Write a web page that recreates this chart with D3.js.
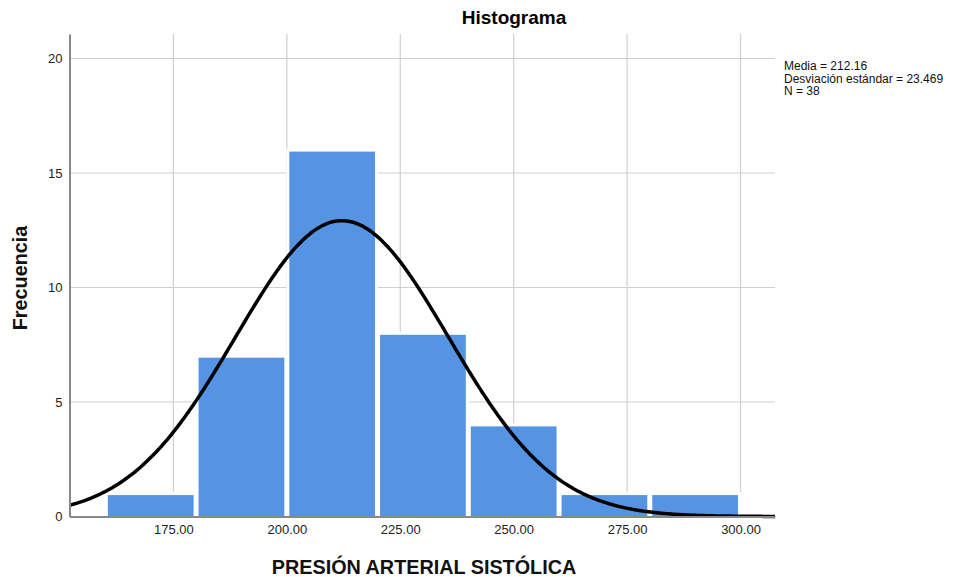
<!DOCTYPE html>
<html>
<head>
<meta charset="utf-8">
<script src="https://cdn.jsdelivr.net/npm/d3@7"></script>
<style>
  body { margin: 0; background: #fff; }
  text { font-family: "Liberation Sans", Arial, sans-serif; }
</style>
</head>
<body>
<div id="chart"></div>
<script>
// Histogram bins (lower edge, upper edge, count)
const binStarts = [160, 180, 200, 220, 240, 260, 280];
const binEnds = [180, 200, 220, 240, 260, 280, 300];
const counts = [1, 7, 16, 8, 4, 1, 1];

// Summary stats shown in the legend
const mean = 212.16;
const sd = 23.469;
const n = 38;

const xTicks = [175, 200, 225, 250, 275, 300];
const yTicks = [0, 5, 10, 15, 20];

const margin = {top: 34, right: 190, bottom: 60, left: 69.5},
  width = 775 - margin.left,
  height = 516.5 - margin.top;

const svg = d3.select("#chart")
  .append("svg")
  .attr("width", 965)
  .attr("height", 577);

const g = svg.append("g")
  .attr("transform", `translate(${margin.left}, ${margin.top})`);

const x = d3.scaleLinear()
  .domain([152.1, 307.6])
  .range([0, width]);

const y = d3.scaleLinear()
  .domain([0, 21.07])
  .range([height, 0]);

// grid lines
g.append("g")
  .selectAll("line")
  .data(xTicks)
  .join("line")
  .attr("x1", d => x(d)).attr("x2", d => x(d))
  .attr("y1", 0).attr("y2", height)
  .attr("stroke", "#cfcfcf")
  .attr("stroke-width", 1.2);

g.append("g")
  .selectAll("line")
  .data(yTicks.slice(1))
  .join("line")
  .attr("x1", 0).attr("x2", width)
  .attr("y1", d => y(d)).attr("y2", d => y(d))
  .attr("stroke", "#cfcfcf")
  .attr("stroke-width", 1.2);

// bars
const bins = binStarts.map((s, i) => ({x0: s, x1: binEnds[i], count: counts[i]}));
g.append("g")
  .selectAll("rect")
  .data(bins)
  .join("rect")
  .attr("x", d => x(d.x0) + 1)
  .attr("y", d => y(d.count))
  .attr("width", d => x(d.x1) - x(d.x0) - 2)
  .attr("height", d => height - y(d.count) + 1)
  .attr("fill", "#5593e3")
  .attr("stroke", "#ffffff")
  .attr("stroke-width", 3);

// normal curve scaled to counts
const binWidth = 20;
const xs = d3.range(152.1, 307.7, 0.5);
const curve = xs.map(v => [v, n * binWidth / (sd * Math.sqrt(2 * Math.PI)) * Math.exp(-0.5 * Math.pow((v - mean) / sd, 2))]);
g.append("path")
  .datum(curve)
  .attr("fill", "none")
  .attr("stroke", "#000")
  .attr("stroke-width", 3.5)
  .attr("d", d3.line().x(d => x(d[0])).y(d => y(d[1])).curve(d3.curveBasis));

// axes
const xAxis = g.append("g")
  .attr("transform", `translate(0,${height})`)
  .call(d3.axisBottom(x).tickValues(xTicks).tickFormat(d3.format(".2f")).tickSize(0).tickPadding(8));
const yAxis = g.append("g")
  .call(d3.axisLeft(y).tickValues(yTicks).tickSize(0).tickPadding(7));
[xAxis, yAxis].forEach(a => {
  a.select(".domain").attr("stroke", "#888").attr("stroke-width", 2);
  a.selectAll("text").attr("font-size", 13).attr("fill", "#222")
    .style("font-family", '"Liberation Sans", Arial, sans-serif');
});

// title and labels
svg.append("text")
  .attr("x", 514).attr("y", 24)
  .attr("text-anchor", "middle")
  .attr("font-size", 19).attr("font-weight", "bold")
  .text("Histograma");

svg.append("text")
  .attr("x", 424).attr("y", 574)
  .attr("text-anchor", "middle")
  .attr("font-size", 19.8).attr("font-weight", "bold")
  .attr("fill", "#111")
  .text("PRESIÓN ARTERIAL SISTÓLICA");

svg.append("text")
  .attr("transform", "translate(27, 278) rotate(-90)")
  .attr("text-anchor", "middle")
  .attr("font-size", 19.8).attr("font-weight", "bold")
  .attr("fill", "#111")
  .text("Frecuencia");

// stats legend
const legend = ["Media = " + mean, "Desviación estándar = " + sd, "N = " + n];
svg.append("g")
  .selectAll("text")
  .data(legend)
  .join("text")
  .attr("x", 784)
  .attr("y", (d, i) => 70 + i * 12.5)
  .attr("font-size", 12)
  .attr("fill", "#111")
  .text(d => d);
</script>
</body>
</html>
